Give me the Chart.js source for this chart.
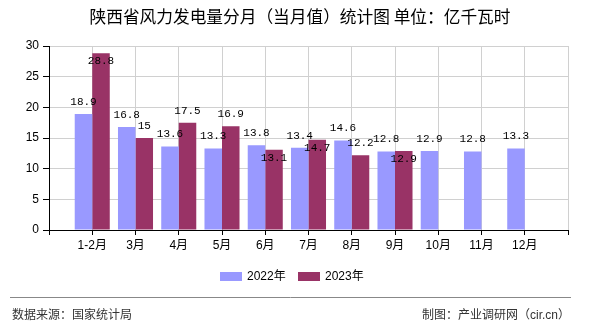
<!DOCTYPE html>
<html>
<head>
<meta charset="utf-8">
<script src="https://cdn.jsdelivr.net/npm/chart.js@4"></script>
<style>
    body { margin: 0; background: #fff; }
    #wrap { width: 590px; height: 330px; position: relative; }
</style>
</head>
<body>
<div id="wrap"><canvas id="chart"></canvas></div>
<script>
// chart data
const months = ['1-2月', '3月', '4月', '5月', '6月', '7月', '8月', '9月', '10月', '11月', '12月'];
const values2022 = [18.9, 16.8, 13.6, 13.3, 13.8, 13.4, 14.6, 12.8, 12.9, 12.8, 13.3];
const values2023 = [28.8, 15, 17.5, 16.9, 13.1, 14.7, 12.2, 12.9, null, null, null];
const yTicks = [0, 5, 10, 15, 20, 25, 30];

const titleText = '陕西省风力发电量分月（当月值）统计图 单位：亿千瓦时';
const sourceText = '数据来源：国家统计局';
const makerText = '制图：产业调研网（cir.cn）';

const cjk = '"Liberation Sans", "Noto Sans CJK SC", sans-serif';
const color2022 = '#9999ff';
const color2023 = '#993366';

// axis has an empty slot at each end, labels sit on the ticks
const labels = [''].concat(months, ['']);
const pad = arr => [null].concat(arr, [null]);

// value labels above the bars, pushed inside when they would collide
const valueLabels = {
    id: 'valueLabels',
    afterDatasetsDraw(chart) {
        const ctx = chart.ctx;
        const area = chart.chartArea;
        const m0 = chart.getDatasetMeta(0);
        const m1 = chart.getDatasetMeta(1);
        ctx.save();
        ctx.font = '11px "Liberation Mono", monospace';
        ctx.fillStyle = '#000';
        ctx.textAlign = 'center';
        ctx.textBaseline = 'middle';
        chart.data.datasets[0].data.forEach((v, i) => {
            if (v == null) return;
            const bar = m0.data[i];
            ctx.fillText(String(v), bar.x, bar.y - 12);
        });
        chart.data.datasets[1].data.forEach((v, i) => {
            if (v == null) return;
            const bar = m1.data[i];
            let y = bar.y - 12;
            const other = m0.data[i];
            const otherY = chart.data.datasets[0].data[i] != null ? other.y - 12 : -999;
            if (y < area.top + 2 || Math.abs(y - otherY) < 10) y = bar.y + 8;
            ctx.fillText(String(v), bar.x, y);
        });
        ctx.restore();
    }
};

// title, legend and footer
const decorations = {
    id: 'decorations',
    afterDraw(chart) {
        const ctx = chart.ctx;
        ctx.save();
        ctx.fillStyle = '#000';
        ctx.textBaseline = 'middle';
        ctx.textAlign = 'center';
        ctx.font = '16.7px "Noto Sans CJK SC", sans-serif';
        ctx.fillText(titleText, 300, 17);

        // legend
        ctx.textAlign = 'left';
        ctx.font = '12px ' + cjk;
        ctx.fillStyle = color2022;
        ctx.fillRect(220, 272, 22, 9);
        ctx.fillStyle = '#000';
        ctx.fillText(chart.data.datasets[0].label, 247, 276.5);
        ctx.fillStyle = color2023;
        ctx.fillRect(298, 272, 22, 9);
        ctx.fillStyle = '#000';
        ctx.fillText(chart.data.datasets[1].label, 325, 276.5);

        // footer
        ctx.strokeStyle = '#888';
        ctx.lineWidth = 1;
        ctx.beginPath();
        ctx.moveTo(10, 297.5);
        ctx.lineTo(571, 297.5);
        ctx.stroke();
        ctx.fillStyle = '#333';
        ctx.font = '12px ' + cjk;
        ctx.fillText(sourceText, 12, 316);
        ctx.textAlign = 'right';
        ctx.fillText(makerText, 570, 316);
        ctx.restore();
    }
};

new Chart(document.getElementById('chart'), {
    type: 'bar',
    data: {
        labels: labels,
        datasets: [{
            label: '2022年',
            data: pad(values2022),
            backgroundColor: color2022
        }, {
            label: '2023年',
            data: pad(values2023),
            backgroundColor: color2023
        }]
    },
    options: {
        responsive: true,
        maintainAspectRatio: false,
        animation: false,
        categoryPercentage: 0.81,
        barPercentage: 1,
        layout: {
            padding: { top: 46, right: 22, bottom: 76, left: 0 }
        },
        scales: {
            x: {
                offset: false,
                grid: { offset: false, color: '#d0d0d0', tickColor: '#000', tickLength: 5 },
                border: { color: '#000' },
                ticks: {
                    autoSkip: false,
                    maxRotation: 0,
                    padding: 3,
                    color: '#000',
                    font: { size: 12, family: cjk }
                },
                afterFit: scale => { scale.height = 24; }
            },
            y: {
                min: 0,
                max: 30,
                afterBuildTicks: scale => { scale.ticks = yTicks.map(v => ({ value: v })); },
                grid: { color: '#d0d0d0', tickColor: '#000', tickLength: 6 },
                border: { color: '#000' },
                ticks: {
                    padding: 4,
                    color: '#000',
                    font: { size: 12, family: cjk }
                },
                afterFit: scale => { scale.width = 49; }
            }
        },
        plugins: {
            legend: { display: false },
            tooltip: { enabled: false }
        }
    },
    plugins: [valueLabels, decorations]
});
</script>
</body>
</html>
